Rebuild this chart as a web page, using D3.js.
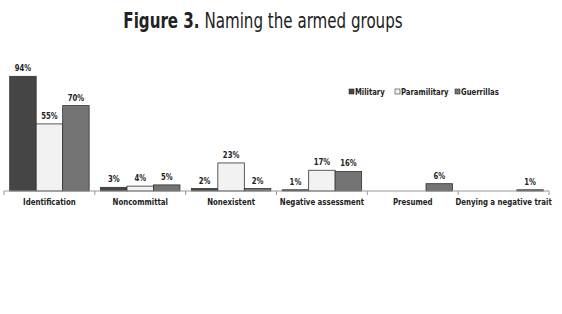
<!DOCTYPE html>
<html>
<head>
<meta charset="utf-8">
<script src="https://cdn.jsdelivr.net/npm/d3@7"></script>
<style>
  body { margin: 0; background: #fff; }
  svg { display: block; font-family: "DejaVu Sans Condensed", "DejaVu Sans", sans-serif; font-stretch: condensed; }
  .cat { font-size: 9.5px; font-weight: bold; fill: #222; }
  .val { font-size: 8.5px; font-weight: bold; fill: #222; }
  .leg { font-size: 8.5px; font-weight: bold; fill: #222; }
</style>
</head>
<body>
<div class="chart"></div>
<script>
const width = 562;
const height = 314;

// chart data
const categories = ['Identification', 'Noncommittal', 'Nonexistent', 'Negative assessment', 'Presumed', 'Denying a negative trait'];
const seriesNames = ['Military', 'Paramilitary', 'Guerrillas'];
const military = [94, 3, 2, 1, null, null];
const paramilitary = [55, 4, 23, 17, null, null];
const guerrillas = [70, 5, 2, 16, 6, 1];
const colors = ['#454545', '#f2f2f2', '#747474'];

const series = [military, paramilitary, guerrillas];

const svg = d3.select('.chart').append('svg')
    .attr('width', width)
    .attr('height', height);

// title (squeezed horizontally to mimic the condensed face)
const title = svg.append('text')
    .attr('transform', 'translate(263,28) scale(0.8,1)')
    .attr('text-anchor', 'middle')
    .style('font-size', '21px')
    .attr('fill', '#222');
title.append('tspan').attr('font-weight', 'bold').text('Figure 3.');
title.append('tspan').text(' Naming the armed groups');

const baseY = 191;
const x0 = d3.scaleBand().domain(categories).range([4, 549]).paddingInner(0).paddingOuter(0);
const x1 = d3.scaleBand().domain(seriesNames).range([0, x0.bandwidth()]).paddingOuter(0.215);
const y = d3.scaleLinear().domain([0, 100]).range([baseY, baseY - 122]);

/* bars */
const groups = svg.selectAll('.grp')
    .data(categories)
    .enter()
    .append('g')
    .attr('class', 'grp')
    .attr('transform', d => `translate(${x0(d)},0)`);

groups.selectAll('rect')
    .data((d, i) => seriesNames.map((s, k) => ({ s: s, k: k, v: series[k][i] })).filter(e => e.v != null))
    .enter()
    .append('rect')
    .attr('x', d => x1(d.s))
    .attr('y', d => y(d.v))
    .attr('width', x1.bandwidth())
    .attr('height', d => baseY - y(d.v))
    .attr('fill', d => colors[d.k])
    .attr('stroke', '#333')
    .attr('stroke-width', 0.8);

groups.selectAll('.val')
    .data((d, i) => seriesNames.map((s, k) => ({ s: s, k: k, v: series[k][i] })).filter(e => e.v != null))
    .enter()
    .append('text')
    .attr('class', 'val')
    .attr('text-anchor', 'middle')
    .attr('transform', d => `translate(${x1(d.s) + x1.bandwidth() / 2},${y(d.v) - 5}) scale(0.9,1)`)
    .text(d => d.v + '%');

/* x axis */
const axis = svg.append('g');
axis.append('line')
    .attr('x1', x0.range()[0]).attr('x2', x0.range()[1])
    .attr('y1', baseY).attr('y2', baseY)
    .attr('stroke', '#999');
const ticks = categories.map(c => x0(c)).concat([x0.range()[1]]);
axis.selectAll('.tk')
    .data(ticks)
    .enter()
    .append('line')
    .attr('x1', d => d).attr('x2', d => d)
    .attr('y1', baseY).attr('y2', baseY + 4)
    .attr('stroke', '#999');
axis.selectAll('.cat')
    .data(categories)
    .enter()
    .append('text')
    .attr('class', 'cat')
    .attr('text-anchor', 'middle')
    .attr('transform', d => `translate(${x0(d) + x0.bandwidth() / 2},205) scale(0.82,1)`)
    .text(d => d);

/* legend */
const legX = [349, 395, 455];
const legend = svg.selectAll('.legi')
    .data(seriesNames)
    .enter()
    .append('g')
    .attr('transform', (d, i) => `translate(${legX[i]},92)`);
legend.append('rect')
    .attr('x', 0).attr('y', -3)
    .attr('width', 5).attr('height', 5)
    .attr('fill', (d, i) => colors[i])
    .attr('stroke', '#333')
    .attr('stroke-width', 0.6);
legend.append('text')
    .attr('class', 'leg')
    .attr('transform', 'translate(6,3) scale(0.9,1)')
    .text(d => d);
</script>
</body>
</html>
